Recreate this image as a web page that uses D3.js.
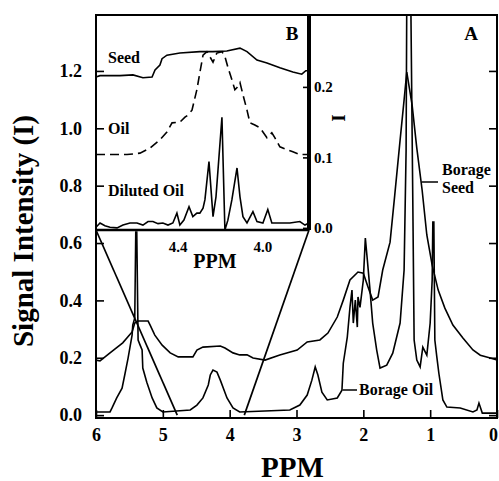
<!DOCTYPE html>
<html>
<head>
<meta charset="utf-8">
<script src="https://cdn.jsdelivr.net/npm/d3@7"></script>
<style>
  body { margin: 0; background: #fff; }
  svg text { font-family: "Liberation Serif", "Times New Roman", serif; font-weight: bold; fill: #000; }
</style>
</head>
<body>
<svg class="nmr" width="499" height="481"></svg>
<script>
// main spectrum, [ppm, I]
const borageSeed = [
  [6.00, 0.192], [5.94, 0.189], [5.79, 0.217], [5.60, 0.252], [5.46, 0.290], [5.42, 0.321],
  [5.37, 0.328], [5.22, 0.328], [5.19, 0.314], [5.12, 0.279], [5.01, 0.244], [4.89, 0.217],
  [4.77, 0.203], [4.55, 0.203], [4.49, 0.227], [4.40, 0.237], [4.14, 0.241], [4.07, 0.234],
  [3.95, 0.217], [3.85, 0.210], [3.74, 0.210], [3.65, 0.199], [3.47, 0.192], [3.25, 0.210],
  [2.99, 0.227], [2.84, 0.255], [2.65, 0.262], [2.53, 0.286], [2.39, 0.342], [2.30, 0.401],
  [2.20, 0.471], [2.08, 0.499], [2.00, 0.495], [1.93, 0.447], [1.86, 0.401], [1.78, 0.412],
  [1.71, 0.506], [1.60, 0.603], [1.53, 0.767], [1.45, 0.959], [1.39, 1.099], [1.35, 1.196],
  [1.27, 1.081], [1.20, 0.931], [1.12, 0.784], [1.05, 0.628], [0.97, 0.523], [0.88, 0.436],
  [0.78, 0.373], [0.66, 0.314], [0.51, 0.269], [0.36, 0.227], [0.25, 0.209], [0.10, 0.199],
  [0.00, 0.192]
]
const borageOil = [
  [6.00, 0.011], [5.79, 0.011], [5.76, 0.025], [5.69, 0.060], [5.61, 0.094], [5.57, 0.140],
  [5.52, 0.199], [5.46, 0.279], [5.45, 0.314], [5.42, 0.339], [5.405, 0.638], [5.39, 0.638],
  [5.37, 0.262], [5.34, 0.244], [5.31, 0.227], [5.30, 0.164], [5.24, 0.115], [5.16, 0.060],
  [5.09, 0.025], [5.00, 0.011], [4.59, 0.018], [4.49, 0.035], [4.40, 0.060], [4.32, 0.105],
  [4.29, 0.140], [4.25, 0.157], [4.19, 0.150], [4.14, 0.122], [4.04, 0.060], [3.95, 0.025],
  [3.85, 0.011], [3.10, 0.018], [2.95, 0.035], [2.84, 0.070], [2.77, 0.122], [2.72, 0.168],
  [2.68, 0.140], [2.62, 0.080], [2.54, 0.053], [2.39, 0.060], [2.32, 0.087], [2.30, 0.181],
  [2.24, 0.272], [2.20, 0.376], [2.17, 0.436], [2.15, 0.321], [2.12, 0.401], [2.09, 0.307],
  [2.08, 0.412], [2.05, 0.376], [2.00, 0.471], [1.97, 0.617], [1.94, 0.541], [1.90, 0.436],
  [1.86, 0.321], [1.80, 0.227], [1.75, 0.164], [1.65, 0.174], [1.56, 0.216], [1.45, 0.321],
  [1.39, 0.506], [1.36, 0.924], [1.35, 1.45], [1.29, 1.45], [1.26, 0.750], [1.24, 0.262],
  [1.20, 0.192], [1.15, 0.168], [1.11, 0.237], [1.05, 0.209], [1.00, 0.321], [0.97, 0.471],
  [0.96, 0.673], [0.945, 0.673], [0.93, 0.262], [0.90, 0.202], [0.87, 0.146], [0.81, 0.053],
  [0.75, 0.028], [0.55, 0.025], [0.36, 0.011], [0.30, 0.018], [0.27, 0.042], [0.22, 0.007],
  [0.00, 0.007]
]
// inset B, [ppm, I]
const insetSeed = [
  [4.784, 0.214], [4.765, 0.216], [4.671, 0.216], [4.610, 0.217], [4.563, 0.213], [4.520, 0.214],
  [4.506, 0.224], [4.483, 0.231], [4.473, 0.240], [4.450, 0.245], [4.389, 0.248], [4.295, 0.250],
  [4.233, 0.250], [4.168, 0.251], [4.106, 0.255], [4.073, 0.250], [4.026, 0.238], [3.979, 0.234],
  [3.918, 0.227], [3.857, 0.221], [3.815, 0.218], [3.796, 0.223], [3.781, 0.223]
]
const insetOil = [
  [4.784, 0.104], [4.638, 0.104], [4.577, 0.106], [4.530, 0.113], [4.483, 0.125], [4.450, 0.136],
  [4.426, 0.149], [4.389, 0.150], [4.365, 0.157], [4.351, 0.160], [4.332, 0.167], [4.309, 0.196],
  [4.295, 0.220], [4.280, 0.245], [4.262, 0.250], [4.248, 0.243], [4.233, 0.235], [4.215, 0.248],
  [4.191, 0.250], [4.177, 0.243], [4.163, 0.228], [4.144, 0.210], [4.130, 0.196], [4.120, 0.199],
  [4.106, 0.206], [4.092, 0.189], [4.073, 0.167], [4.059, 0.149], [4.036, 0.146], [4.012, 0.142],
  [3.979, 0.128], [3.956, 0.135], [3.942, 0.128], [3.918, 0.115], [3.885, 0.111], [3.857, 0.108],
  [3.824, 0.104], [3.781, 0.104]
]
const insetDiluted = [
  [4.784, 0.001], [4.765, 0.007], [4.742, 0.003], [4.718, 0.001], [4.685, 0.000], [4.657, 0.004],
  [4.624, 0.007], [4.591, 0.007], [4.563, 0.004], [4.539, 0.009], [4.516, 0.009], [4.492, 0.006],
  [4.469, 0.007], [4.445, 0.004], [4.422, 0.007], [4.403, 0.021], [4.389, 0.004], [4.370, 0.011],
  [4.346, 0.030], [4.328, 0.016], [4.309, 0.021], [4.295, 0.021], [4.280, 0.028], [4.271, 0.040],
  [4.252, 0.094], [4.233, 0.016], [4.219, 0.044], [4.191, 0.157], [4.177, -0.003], [4.163, 0.011],
  [4.144, 0.040], [4.120, 0.085], [4.106, 0.044], [4.092, 0.016], [4.073, 0.007], [4.045, 0.023],
  [4.026, 0.009], [3.998, 0.007], [3.975, 0.026], [3.956, 0.007], [3.918, 0.007], [3.871, 0.007],
  [3.824, 0.009], [3.800, 0.004], [3.781, 0.007]
]
const xTicks = [6, 5, 4, 3, 2, 1, 0]
const yTicks = [0, 0.2, 0.4, 0.6, 0.8, 1.0, 1.2]
const insetXTicks = [4.4, 4.0]
const insetYTicks = [0, 0.1, 0.2]
const insetRange = [4.784, 3.781]

const svg = d3.select('.nmr')
const margin = { top: 15, right: 2, bottom: 63, left: 96 }
const width = +svg.attr('width')
const height = +svg.attr('height')
const innerW = width - margin.left - margin.right
const innerH = height - margin.top - margin.bottom

svg.append('rect').attr('width', width).attr('height', height).attr('fill', '#fff')

const xscale = d3.scaleLinear().domain([6, 0]).range([0, innerW])
const yscale = d3.scaleLinear().domain([-0.01, 1.395]).range([innerH, 0])

const g = svg.append('g').attr('transform', `translate(${margin.left},${margin.top})`)

g.append('clipPath').attr('id', 'plotclip')
  .append('rect').attr('width', innerW).attr('height', innerH)

const line = d3.line().x(d => xscale(d[0])).y(d => yscale(d[1]))

const curves = g.append('g').attr('clip-path', 'url(#plotclip)')
curves.append('path').datum(borageSeed).attr('d', line)
  .attr('fill', 'none').attr('stroke', '#000').attr('stroke-width', 1.6)
curves.append('path').datum(borageOil).attr('d', line)
  .attr('fill', 'none').attr('stroke', '#000').attr('stroke-width', 1.6)

// axes, ticks pointing inward
const styleAxis = sel => {
  sel.select('.domain').remove()
  sel.selectAll('line').attr('stroke', '#000').attr('stroke-width', 1.6)
}
g.append('g')
  .call(d3.axisLeft(yscale).tickValues(yTicks).tickFormat(d3.format('.1f'))
    .tickSizeInner(-8).tickSizeOuter(0).tickPadding(14))
  .call(styleAxis)
  .selectAll('text').style('font-size', '18px').attr('font-family', null)
g.append('g').attr('transform', `translate(${innerW},0)`)
  .call(d3.axisRight(yscale).tickValues(yTicks).tickFormat('')
    .tickSizeInner(-8).tickSizeOuter(0))
  .call(styleAxis)
const xAxisG = g.append('g').attr('transform', `translate(0,${innerH})`)
  .call(d3.axisBottom(xscale).tickValues(xTicks).tickFormat(d3.format('d'))
    .tickSizeInner(-8).tickSizeOuter(0).tickPadding(10))
  .call(styleAxis)
xAxisG.selectAll('text').style('font-size', '18px').attr('font-family', null)
  .attr('dx', d => d === 0 ? -4 : 0)

g.append('rect').attr('width', innerW).attr('height', innerH)
  .attr('fill', 'none').attr('stroke', '#000').attr('stroke-width', 2)

// lines from inset to the main axis
const insetW = 213, insetH = 215
insetRange.forEach((p, i) => {
  g.append('line')
    .attr('x1', i * insetW).attr('y1', insetH)
    .attr('x2', xscale(p)).attr('y2', yscale(0))
    .attr('stroke', '#000').attr('stroke-width', 1.7)
})

// inset B
const ixscale = d3.scaleLinear().domain(insetRange).range([0, insetW])
const iyscale = d3.scaleLinear().domain([-0.003, 0.302]).range([insetH, 0])
const iline = d3.line().x(d => ixscale(d[0])).y(d => iyscale(d[1]))
const ig = g.append('g')

ig.append('path').datum(insetSeed).attr('d', iline)
  .attr('fill', 'none').attr('stroke', '#000').attr('stroke-width', 1.6)
ig.append('path').datum(insetOil).attr('d', iline)
  .attr('fill', 'none').attr('stroke', '#000').attr('stroke-width', 1.6)
  .attr('stroke-dasharray', '9,5')
ig.append('path').datum(insetDiluted).attr('d', iline)
  .attr('fill', 'none').attr('stroke', '#000').attr('stroke-width', 1.6)

ig.append('g').attr('transform', `translate(${insetW},0)`)
  .call(d3.axisRight(iyscale).tickValues(insetYTicks).tickFormat(d3.format('.1f'))
    .tickSizeInner(-6).tickSizeOuter(0).tickPadding(5))
  .call(styleAxis)
  .selectAll('text').style('font-size', '15px').attr('font-family', null)
ig.append('g').attr('transform', `translate(0,${insetH})`)
  .call(d3.axisBottom(ixscale).tickValues(insetXTicks).tickFormat(d3.format('.1f'))
    .tickSizeInner(0).tickSizeOuter(0).tickPadding(11))
  .call(styleAxis)
  .selectAll('text').style('font-size', '15px').attr('font-family', null)

ig.append('line').attr('x1', 0).attr('x2', insetW).attr('y1', insetH).attr('y2', insetH)
  .attr('stroke', '#000').attr('stroke-width', 2.5)
ig.append('line').attr('x1', insetW).attr('x2', insetW).attr('y1', 0).attr('y2', insetH)
  .attr('stroke', '#000').attr('stroke-width', 4)

const label = (parent, txt, x, y, size, anchor) => parent.append('text')
  .attr('x', x).attr('y', y).attr('text-anchor', anchor || 'start')
  .style('font-size', size + 'px').text(txt)

label(ig, 'Seed', 12, 48, 16)
label(ig, 'Oil', 12, 119, 16)
label(ig, 'Diluted Oil', 12, 181, 16)
label(ig, 'B', 196, 25, 19, 'middle')
label(ig, 'PPM', 119, 253, 20, 'middle')
ig.append('text').attr('transform', `translate(243,103) rotate(-90)`)
  .attr('text-anchor', 'middle').attr('dominant-baseline', 'central')
  .style('font-size', '18px').text('I')

// main labels
label(g, 'A', 375, 25, 19, 'middle')
label(g, 'Borage', 346, 160, 16)
label(g, 'Seed', 346, 178, 16)
g.append('line').attr('x1', xscale(1.13)).attr('x2', 342).attr('y1', 167).attr('y2', 167)
  .attr('stroke', '#000').attr('stroke-width', 1.5)
label(g, 'Borage Oil', 263, 380, 16)
g.append('line').attr('x1', xscale(2.31)).attr('x2', 261).attr('y1', 375).attr('y2', 375)
  .attr('stroke', '#000').attr('stroke-width', 1.5)

label(svg, 'PPM', margin.left + innerW / 2 - 4, 477, 29, 'middle')
svg.append('text').attr('transform', 'translate(33,231) rotate(-90)')
  .attr('text-anchor', 'middle').style('font-size', '29px').text('Signal Intensity (I)')
</script>
</body>
</html>
